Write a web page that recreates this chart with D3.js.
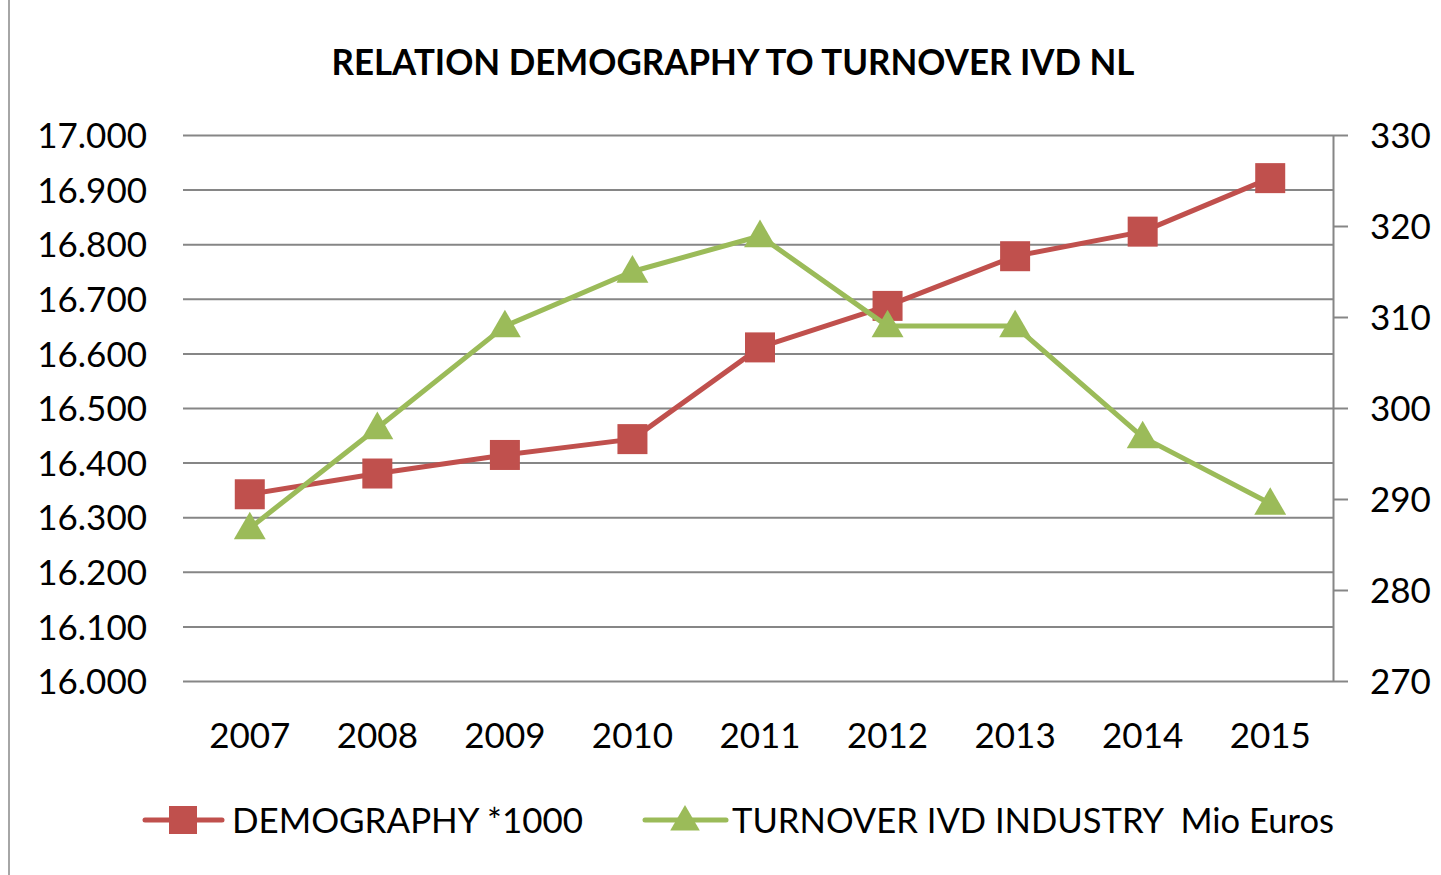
<!DOCTYPE html>
<html>
<head>
<meta charset="utf-8">
<script src="https://cdn.jsdelivr.net/npm/d3@7"></script>
<style>
  html, body { margin: 0; padding: 0; background: #fff; }
  svg { display: block; }
  text { font-family: Lato, "Open Sans", sans-serif; fill: #000; }
</style>
</head>
<body>
<svg id="chart" width="1441" height="875"></svg>
<script>
const years = ["2007","2008","2009","2010","2011","2012","2013","2014","2015"];
const demography = [16342, 16380, 16414, 16443, 16611, 16687, 16778, 16823, 16921];
const turnover = [286.8, 297.8, 309, 315, 318.9, 309, 309, 296.8, 289.5];
const leftTicks = [16000,16100,16200,16300,16400,16500,16600,16700,16800,16900,17000];
const rightTicks = [270,280,290,300,310,320,330];
const title = "RELATION DEMOGRAPHY TO TURNOVER IVD NL";
const seriesNames = ["DEMOGRAPHY *1000", "TURNOVER IVD INDUSTRY  Mio Euros"];
const colors = ["#C0504D", "#9BBB59"];

const svg = d3.select("#chart");
const plotL = 183, plotR = 1333, plotT = 135, plotB = 681;

const x = d3.scaleBand().domain(years).range([186, 1334]);
const cx = d => x(d) + x.bandwidth() / 2;
const yL = d3.scaleLinear().domain([16000, 17000]).range([plotB, plotT]);
const yR = d3.scaleLinear().domain([270, 330]).range([plotB, plotT]);

// frame line at left
svg.append("line").attr("x1", 9).attr("x2", 9).attr("y1", 0).attr("y2", 875)
  .attr("stroke", "#a6a6a6").attr("stroke-width", 2);

// title
svg.append("text").attr("x", 733).attr("y", 75).attr("text-anchor", "middle")
  .attr("font-size", 37).attr("font-weight", "bold")
  .attr("textLength", 803).attr("lengthAdjust", "spacingAndGlyphs")
  .text(title);

const fmtL = d3.formatLocale({decimal: ",", thousands: ".", grouping: [3], currency: ["", ""]}).format(",.0f");

// left axis with gridlines
const gL = svg.append("g").attr("transform", `translate(${plotL},0)`)
  .call(d3.axisLeft(yL).tickValues(leftTicks).tickSize(-(plotR - plotL)).tickPadding(36).tickFormat(fmtL));
gL.select(".domain").remove();
gL.selectAll(".tick line").attr("stroke", "#868686").attr("stroke-width", 2);
gL.selectAll(".tick text").attr("font-size", 35).attr("font-family", "Lato").attr("fill", "#000").attr("dy", "0.36em");

// right axis
const gR = svg.append("g").attr("transform", `translate(${plotR},0)`)
  .call(d3.axisRight(yR).tickValues(rightTicks).tickSize(15).tickSizeOuter(0).tickPadding(22).tickFormat(d3.format("d")));
gR.select(".domain").attr("stroke", "#868686").attr("stroke-width", 2);
gR.selectAll(".tick line").attr("stroke", "#868686").attr("stroke-width", 2);
gR.selectAll(".tick text").attr("font-size", 35).attr("font-family", "Lato").attr("fill", "#000").attr("dy", "0.36em");

// bottom axis labels
const gB = svg.append("g").attr("transform", `translate(0,${plotB})`)
  .call(d3.axisBottom(x).tickSize(0));
gB.select(".domain").remove();
gB.selectAll(".tick text").attr("font-size", 35).attr("font-family", "Lato").attr("fill", "#000")
  .attr("y", 67).attr("dy", null);

// series
const lineL = d3.line().x((d, i) => cx(years[i])).y(d => yL(d));
const lineR = d3.line().x((d, i) => cx(years[i])).y(d => yR(d));
const sq = 30;

svg.append("path").datum(demography).attr("d", lineL)
  .attr("fill", "none").attr("stroke", colors[0]).attr("stroke-width", 5).attr("stroke-linejoin", "round");
svg.selectAll(".sq").data(demography).join("rect").attr("class", "sq")
  .attr("x", (d, i) => cx(years[i]) - sq / 2).attr("y", d => yL(d) - sq / 2)
  .attr("width", sq).attr("height", sq).attr("fill", colors[0]);

const tri = d3.symbol().type(d3.symbolTriangle).size(440);
svg.append("path").datum(turnover).attr("d", lineR)
  .attr("fill", "none").attr("stroke", colors[1]).attr("stroke-width", 5).attr("stroke-linejoin", "round");
svg.selectAll(".tri").data(turnover).join("path").attr("class", "tri")
  .attr("d", tri)
  .attr("transform", (d, i) => `translate(${cx(years[i])},${yR(d) + 2})`)
  .attr("fill", colors[1]);

// legend
const legY = 820;
const lg = svg.append("g");
lg.append("line").attr("x1", 145).attr("x2", 222).attr("y1", legY).attr("y2", legY)
  .attr("stroke", colors[0]).attr("stroke-width", 5).attr("stroke-linecap", "round");
lg.append("rect").attr("x", 183 - 14).attr("y", legY - 14).attr("width", 28).attr("height", 28).attr("fill", colors[0]);
lg.append("text").attr("x", 232).attr("y", legY + 13).attr("font-size", 35)
  .attr("textLength", 351).attr("lengthAdjust", "spacingAndGlyphs").text(seriesNames[0]);

lg.append("line").attr("x1", 645).attr("x2", 726).attr("y1", legY).attr("y2", legY)
  .attr("stroke", colors[1]).attr("stroke-width", 5).attr("stroke-linecap", "round");
lg.append("path").attr("d", d3.symbol().type(d3.symbolTriangle).size(380))
  .attr("transform", `translate(685,${legY + 2})`).attr("fill", colors[1]);
lg.append("text").attr("x", 732).attr("y", legY + 13).attr("font-size", 35)
  .attr("xml:space", "preserve").style("white-space", "pre")
  .attr("textLength", 602).attr("lengthAdjust", "spacingAndGlyphs").text(seriesNames[1]);
</script>
</body>
</html>
